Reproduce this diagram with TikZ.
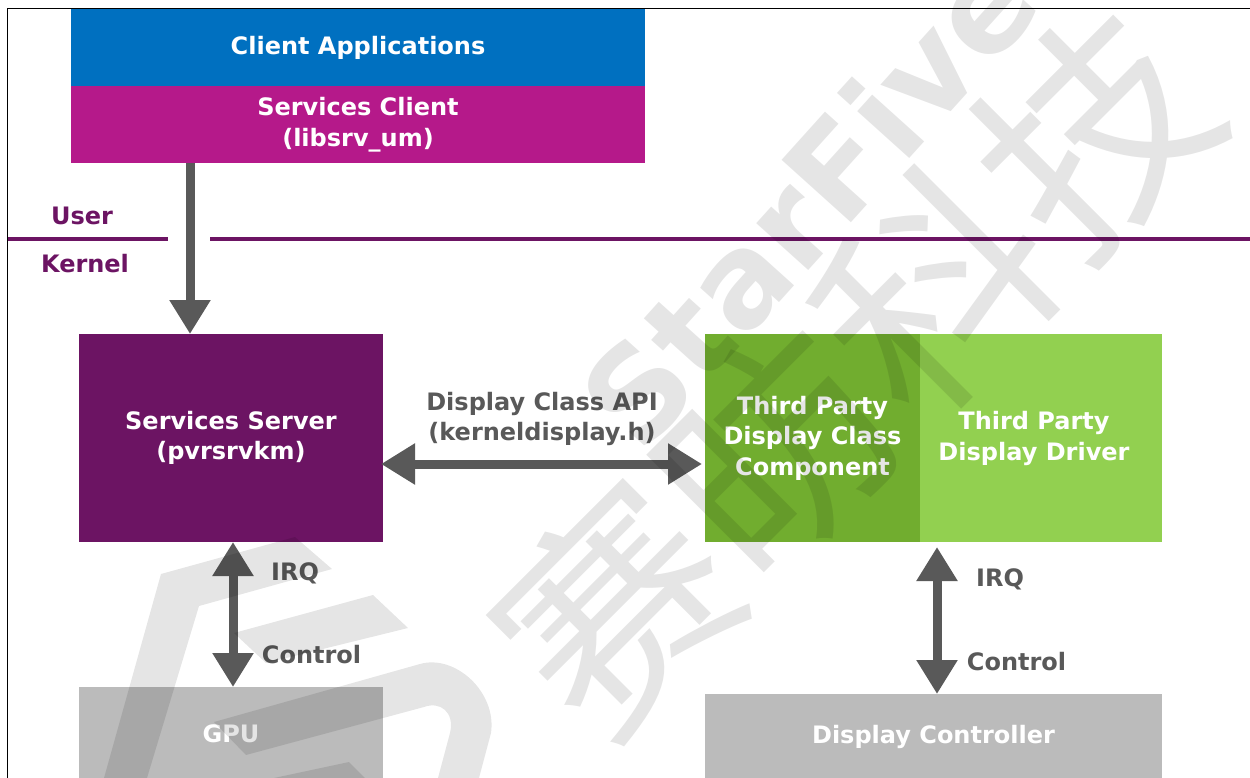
\documentclass[tikz,border=0pt]{standalone}
\usepackage{fontspec}
\setmainfont{DejaVu Sans}
\newfontfamily\cjkfont{Noto Sans CJK SC}
\usetikzlibrary{arrows.meta}

\definecolor{clientblue}{HTML}{0070C0}
\definecolor{clientmagenta}{HTML}{B5198A}
\definecolor{serverpurple}{HTML}{6C1463}
\definecolor{dccgreen}{HTML}{71AD2F}
\definecolor{drvgreen}{HTML}{92D050}
\definecolor{hwgray}{HTML}{BBBBBB}
\definecolor{arrowgray}{HTML}{595959}

\begin{document}
\begin{tikzpicture}[x=1pt,y=-1pt,
  font=\fontsize{24}{30.5}\selectfont\bfseries,
  block/.style={inner sep=0pt, outer sep=0pt, text=white, align=center},
  tip/.tip={Triangle[length=34pt,width=39pt]},
  link/.style={draw=arrowgray, line width=9pt, tip-tip},
  oneway/.style={draw=arrowgray, line width=9pt, -tip},
  tag/.style={text=arrowgray, inner sep=0pt, anchor=base},
  layer/.style={text=serverpurple, inner sep=0pt, anchor=base},
  divider/.style={draw=serverpurple, line width=3.3pt},
  frame/.style={draw=black, line width=1.3pt},
  wmark/.style={text=black, text opacity=0.1, inner sep=0pt},
  wshape/.style={fill=black, fill opacity=0.1}
]
\useasboundingbox (0,0) rectangle (1250,778);
\clip (0,0) rectangle (1250,778);
\fill[white] (0,0) rectangle (1250,778);

% user space
\node[block, fill=clientblue, minimum width=574pt, minimum height=77pt] (apps) at (358,47.5) {Client Applications};
\node[block, fill=clientmagenta, minimum width=574pt, minimum height=77pt] (svcclient) at (358,124.5) {Services Client\\(libsrv\_um)};

% user / kernel boundary
\coordinate (ukA) at (8,239);
\coordinate (ukB) at (168,239);
\coordinate (ukC) at (210,239);
\coordinate (ukD) at (1250,239);
\draw[divider] (ukA) -- (ukB);
\draw[divider] (ukC) -- (ukD);
\node[layer] (user) at (82,225) {User};
\node[layer] (kernel) at (85,272) {Kernel};

% kernel space
\node[block, fill=serverpurple, minimum width=304pt, minimum height=208pt] (server) at (231,438) {Services Server\\(pvrsrvkm)};
\node[block, fill=dccgreen, minimum width=215pt, minimum height=208pt] (dcc) at (812.5,438) {Third Party\\Display Class\\Component};
\node[block, fill=drvgreen, minimum width=242pt, minimum height=208pt,
  label={[block, xshift=-7pt, yshift=-0.5pt]center:Third Party\\Display Driver}] (drv) at (1041,438) {};

% hardware
\node[block, fill=hwgray, minimum width=304pt, minimum height=94pt] (gpu) at (231,734) {GPU};
\node[block, fill=hwgray, minimum width=457pt, minimum height=86pt] (dispctl) at (933.5,737) {Display Controller};

% connectors
\draw[oneway] ([xshift=-168pt]svcclient.south) -- ([xshift=-41pt]server.north);
\draw[link, shorten <=-2pt, shorten >=3pt] ([yshift=-26pt]server.east) -- ([yshift=-26pt]dcc.west);
\node[text=arrowgray, align=center, inner sep=0pt] (api) at (542,419) {Display Class API\\(kerneldisplay.h)};
\draw[link] ([xshift=2pt]server.south) -- ([xshift=2pt]gpu.north);
\node[tag] (irqL) at (295,580) {IRQ};
\node[tag] (ctlL) at (311.5,663) {Control};
\draw[link, shorten <=5pt] ([xshift=17pt]dcc.south east) -- ([xshift=3.5pt]dispctl.north);
\node[tag] (irqR) at (1000,586) {IRQ};
\node[tag] (ctlR) at (1016.5,670) {Control};

% page frame
\draw[frame] (1250,8.5) -- (7.5,8.5) -- (7.5,778);

% watermark
\node[wmark, rotate=48, font=\fontsize{128}{128}\selectfont\bfseries] (wmLatin) at (808,200) {StarFive};
\node[wmark, rotate=45, font=\cjkfont\mdseries\fontsize{225}{225}\selectfont] (wmCjk) at (855,370) {赛昉科技};
\fill[wshape] (104,778) -- (161,574) -- (295,537) -- (332,569) -- (199,606) -- (147,778) -- cycle;
\fill[wshape] (234,633) -- (373,595) -- (408,628) -- (266,663) -- cycle;
\fill[wshape] (214,722) -- (420,664) .. controls (455,654) and (497,692) .. (491,733)
  -- (479,778) -- (438,778) -- (450,733) .. controls (455,712) and (440,701) .. (424,707) -- (246,755) -- cycle;
\fill[wshape] (274,778) -- (349,762) -- (365,778) -- cycle;
\end{tikzpicture}
\end{document}
